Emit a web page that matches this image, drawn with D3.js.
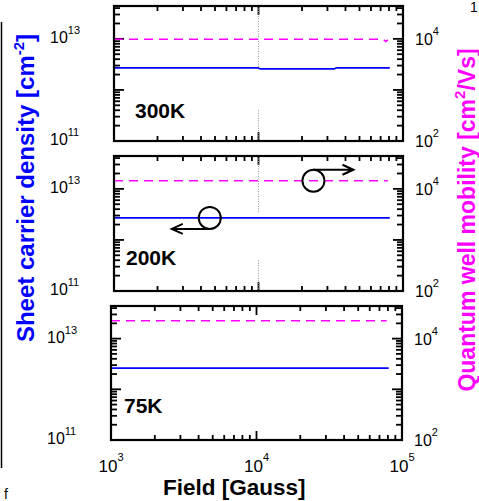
<!DOCTYPE html>
<html>
<head>
<meta charset="utf-8">
<script src="https://cdn.jsdelivr.net/npm/d3@7"></script>
<style>
  body { margin: 0; background: #fff; }
  text { font-family: Arial, "Liberation Sans", sans-serif; }
</style>
</head>
<body>
<script>
// axis ranges and tick labels
const fieldDomain = [1e3, 1e5];
const densityDomain = [1e11, 4.4e13];
const mobilityDomain = [1e2, 4.4e4];
const fieldLabels = [1e3, 1e4, 1e5];
const densityLabels = [1e13, 1e11];
const mobilityLabels = [1e4, 1e2];
const minorMultipliers = [1, 2, 3, 4, 5, 6, 7, 8, 9];

const temps = ['300K', '200K', '75K'];

// sheet carrier density [cm^-2] vs field [G]
const field300 = [1000, 9900, 10300, 33500, 34500, 81000];
const density300 = [2.7e12, 2.7e12, 2.58e12, 2.58e12, 2.7e12, 2.7e12];
const field200 = [1000, 81000];
const density200 = [2.7e12, 2.7e12];
const field75 = [1000, 81000];
const density75 = [2.62e12, 2.62e12];

// quantum well mobility [cm^2/Vs] vs field [G]
const mobField300 = [1000, 73000, 76000, 78500];
const mobility300 = [9800, 9800, 8900, 9600];
const mobField200 = [1000, 78500];
const mobility200 = [14400, 14400];
const mobField75 = [1000, 78500];
const mobility75 = [22500, 22500];

// dotted marker at 10^4 G (density ranges it spans)
const markerField = 1e4;
const marker300 = [[4.4e13, 2.7e12], [4e11, 1e11]];
const marker200 = [[4.4e13, 3.3e12], [4e11, 1e11]];

// circled series with arrows in the 200K panel
const circleDensityField = 4.6e3;
const circleMobilityField = 2.4e4;

const densitySeries = [
  d3.zip(field300, density300),
  d3.zip(field200, density200),
  d3.zip(field75, density75)
];
const mobilitySeries = [
  d3.zip(mobField300, mobility300),
  d3.zip(mobField200, mobility200),
  d3.zip(mobField75, mobility75)
];
const markers = [marker300, marker200, []];

const svg = d3.select('body')
  .append('svg')
  .attr('width', 479)
  .attr('height', 501);

const panelBoxes = [
  { x0: 114, x1: 403, y0: 6, y1: 141 },
  { x0: 114, x1: 403, y0: 156, y1: 291 },
  { x0: 111, x1: 402, y0: 306, y1: 440 }
];

// log ticks 1..9 x 10^k inside a domain
function logTicks(domain) {
  const lo = Math.floor(Math.log10(domain[0]));
  const hi = Math.ceil(Math.log10(domain[1]));
  const out = [];
  d3.range(lo, hi + 1).forEach(k => {
    minorMultipliers.forEach(m => {
      const v = m * Math.pow(10, k);
      if (v >= domain[0] * 0.999 && v <= domain[1] * 1.001) out.push({ v: v, major: m === 1 });
    });
  });
  return out;
}

function addPow(text, v, supDy, supSize) {
  text.append('tspan').text('10');
  text.append('tspan')
    .attr('dy', supDy)
    .attr('font-size', supSize)
    .text(Math.round(Math.log10(v)));
}

// inward ticks on one side of a panel, drawn as small filled bars
function drawTicks(g, scale, side, b, len) {
  const horiz = side === 'top' || side === 'bottom';
  const w = 1.8;
  const L = t => t.major ? len[1] : len[0];
  g.append('g')
    .selectAll('rect')
    .data(logTicks(scale.domain()))
    .join('rect')
    .attr('x', t => {
      if (horiz) return scale(t.v) - w / 2;
      return side === 'left' ? b.x0 : b.x1 - L(t);
    })
    .attr('y', t => {
      if (!horiz) return scale(t.v) - w / 2;
      return side === 'top' ? b.y0 : b.y1 - L(t);
    })
    .attr('width', t => horiz ? w : L(t))
    .attr('height', t => horiz ? L(t) : w)
    .attr('fill', '#000');
}

const scales = panelBoxes.map(b => ({
  x: d3.scaleLog().domain(fieldDomain).range([b.x0, b.x1]),
  yL: d3.scaleLog().domain(densityDomain).range([b.y1, b.y0]),
  yR: d3.scaleLog().domain(mobilityDomain).range([b.y1, b.y0])
}));

panelBoxes.forEach((b, i) => {
  const { x, yL, yR } = scales[i];
  const g = svg.append('g');

  // ticks, all pointing inward
  drawTicks(g, x, 'bottom', b, [5, 9]);
  drawTicks(g, x, 'top', b, [5, 9]);
  drawTicks(g, yL, 'left', b, [6, 10]);
  drawTicks(g, yR, 'right', b, [6, 10]);

  // dotted marker line
  markers[i].forEach(seg => {
    g.append('line')
      .attr('x1', x(markerField)).attr('x2', x(markerField))
      .attr('y1', yL(seg[0])).attr('y2', yL(seg[1]))
      .attr('stroke', '#999')
      .attr('stroke-width', 1)
      .attr('stroke-dasharray', '1,1.5');
  });

  // density line
  g.append('path')
    .datum(densitySeries[i])
    .attr('fill', 'none')
    .attr('stroke', '#0000ff')
    .attr('stroke-width', 1.6)
    .attr('d', d3.line().x(d => x(d[0])).y(d => yL(d[1])));

  // mobility line
  g.append('path')
    .datum(mobilitySeries[i])
    .attr('fill', 'none')
    .attr('stroke', '#ff00ff')
    .attr('stroke-width', 1.6)
    .attr('stroke-dasharray', '9,6')
    .attr('d', d3.line().x(d => x(d[0])).y(d => yR(d[1])));

  // frame
  g.append('rect')
    .attr('x', b.x0).attr('y', b.y0)
    .attr('width', b.x1 - b.x0).attr('height', b.y1 - b.y0)
    .attr('fill', 'none')
    .attr('stroke', '#000')
    .attr('stroke-width', 2.2);

  // temperature label
  const tOff = [[21, 112], [12, 109], [13, 107]][i];
  g.append('text')
    .attr('x', b.x0 + tOff[0])
    .attr('y', b.y0 + tOff[1])
    .attr('font-size', 21)
    .attr('font-weight', 'bold')
    .text(temps[i]);

  // left tick labels
  densityLabels.forEach(v => {
    const t = g.append('text')
      .attr('x', b.x0 - 64)
      .attr('y', yL(v) + 4)
      .attr('font-size', 16);
    addPow(t, v, -9, 11);
  });

  // right tick labels
  mobilityLabels.forEach(v => {
    const t = g.append('text')
      .attr('x', b.x1 + 12)
      .attr('y', yR(v) + 6)
      .attr('font-size', 16);
    addPow(t, v, -10, 11);
  });

  // annotations in 200K panel
  if (i === 1) {
    const cy1 = yL(densitySeries[1][0][1]);
    const cx1 = x(circleDensityField);
    const cx2 = x(circleMobilityField);
    const cy2 = yR(mobilitySeries[1][0][1]);
    const r = 11;
    g.append('circle').attr('cx', cx1).attr('cy', cy1).attr('r', r)
      .attr('fill', 'none').attr('stroke', '#000').attr('stroke-width', 2);
    g.append('circle').attr('cx', cx2).attr('cy', cy2).attr('r', r)
      .attr('fill', 'none').attr('stroke', '#000').attr('stroke-width', 2);
    const a1y = cy1 + r, a1x = cx1 - 38;
    g.append('path')
      .attr('d', `M${cx1},${a1y}H${a1x}M${a1x + 11},${a1y - 5}L${a1x},${a1y}L${a1x + 11},${a1y + 5}`)
      .attr('fill', 'none').attr('stroke', '#000').attr('stroke-width', 2);
    const a2y = cy2 - r, a2x = cx2 + 40;
    g.append('path')
      .attr('d', `M${cx2},${a2y}H${a2x}M${a2x - 11},${a2y - 5}L${a2x},${a2y}L${a2x - 11},${a2y + 5}`)
      .attr('fill', 'none').attr('stroke', '#000').attr('stroke-width', 2);
  }

  // x tick labels under the bottom panel
  if (i === panelBoxes.length - 1) {
    fieldLabels.forEach(v => {
      const t = g.append('text')
        .attr('x', x(v))
        .attr('y', b.y1 + 32)
        .attr('text-anchor', 'middle')
        .attr('font-size', 17);
      addPow(t, v, -11, 11);
    });
  }
});

// axis titles
svg.append('text')
  .attr('x', 163)
  .attr('y', 495)
  .attr('font-size', 22.5)
  .attr('font-weight', 'bold')
  .text('Field [Gauss]');

const leftTitle = svg.append('text')
  .attr('transform', 'translate(34,188) rotate(-90)')
  .attr('text-anchor', 'middle')
  .attr('font-size', 24)
  .attr('font-weight', 'bold')
  .attr('fill', '#0000ff');
leftTitle.append('tspan').text('Sheet carrier density [cm');
leftTitle.append('tspan').attr('dy', -10).attr('font-size', 15).text('-2');
leftTitle.append('tspan').attr('dy', 10).text(']');

const rightTitle = svg.append('text')
  .attr('transform', 'translate(475,220) rotate(-90)')
  .attr('text-anchor', 'middle')
  .attr('font-size', 23)
  .attr('font-weight', 'bold')
  .attr('fill', '#ff00ff');
rightTitle.append('tspan').text('Quantum well mobility [cm');
rightTitle.append('tspan').attr('dy', -10).attr('font-size', 15).text('2');
rightTitle.append('tspan').attr('dy', 10).text('/Vs]');

// cropped edges of neighbouring figure
svg.append('line')
  .attr('x1', 1.5).attr('x2', 1.5)
  .attr('y1', 22).attr('y2', 468)
  .attr('stroke', '#000').attr('stroke-width', 1.5);
svg.append('text')
  .attr('x', 4).attr('y', 499)
  .attr('font-family', '"Liberation Serif", serif')
  .attr('font-size', 14)
  .text('f');
svg.append('text')
  .attr('x', 470).attr('y', 12)
  .attr('font-family', '"Liberation Serif", serif')
  .attr('font-size', 14)
  .text('1');

console.log('tick bars:', svg.selectAll('g > g > rect').size());
</script>
</body>
</html>
